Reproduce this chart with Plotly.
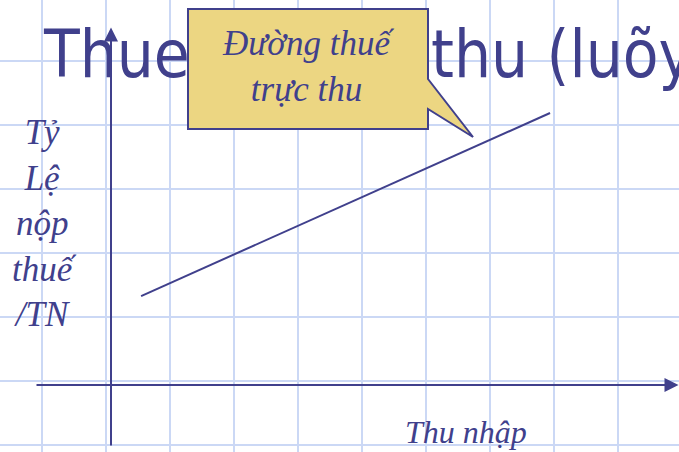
import plotly.graph_objects as go

# ---------------- data ----------------
income = [0.47, 6.86]          # Thu nhập (grid units)
tax_rate = [1.39, 4.25]        # Tỷ lệ nộp thuế / TN (grid units)

title_parts = ["Thueá tröïc", "thu (luõy tieán)"]
y_label_lines = ["Tỷ", "Lệ", "nộp", "thuế", "/TN"]
x_label = "Thu nhập"
callout_lines = ["Đường thuế", "trực thu"]

# ---------------- geometry helpers ----------------
W, H = 679, 452
OX, OY = 111, 385      # pixel position of the origin
CELL = 64              # pixels per grid cell


def px_x(p):
    return (p - OX) / CELL


def px_y(p):
    return (OY - p) / CELL


NAVY = "#40408c"
GRID = "#cbd8f5"
FILL = "#ecd682"

fig = go.Figure()

# title (as trace text so the callout shape can cover it)
fig.add_trace(go.Scatter(
    x=[px_x(44), px_x(431)], y=[px_y(61), px_y(61)],
    mode="text", text=title_parts, textposition="middle right",
    textfont=dict(family="DejaVu Sans Condensed, DejaVu Sans", size=65, color=NAVY),
    hoverinfo="skip", cliponaxis=False,
))

# tax line
fig.add_trace(go.Scatter(
    x=income, y=tax_rate, mode="lines",
    line=dict(color=NAVY, width=2), hoverinfo="skip",
))

# callout shape
pts = [(188, 9), (428, 9), (428, 79), (473, 137), (428, 109), (428, 129), (188, 129)]
path = "M " + " L ".join(f"{px_x(a)},{px_y(b)}" for a, b in pts) + " Z"
fig.add_shape(type="path", path=path, xref="x", yref="y",
              fillcolor=FILL, line=dict(color=NAVY, width=2), layer="above")

annotations = []
# axes with arrows
annotations.append(dict(x=0, y=px_y(27.5), ax=0, ay=px_y(447), xref="x", yref="y",
                        axref="x", ayref="y", text="", showarrow=True,
                        arrowhead=2, arrowsize=1.4, arrowwidth=2, arrowcolor=NAVY))
annotations.append(dict(x=px_x(678.5), y=0, ax=px_x(35), ay=0, xref="x", yref="y",
                        axref="x", ayref="y", text="", showarrow=True,
                        arrowhead=2, arrowsize=1.4, arrowwidth=2, arrowcolor=NAVY))

serif = "Liberation Serif, Times New Roman, serif"
annotations.append(dict(x=px_x(308), y=px_y(66), xref="x", yref="y",
                        text="<i>" + "<br>".join(callout_lines) + "</i>",
                        showarrow=False, align="center",
                        font=dict(family=serif, size=35, color=NAVY)))
annotations.append(dict(x=px_x(44), y=px_y(223), xref="x", yref="y",
                        text="<i>" + "<br>".join(y_label_lines) + "</i>",
                        showarrow=False, align="center",
                        font=dict(family=serif, size=35, color=NAVY)))
annotations.append(dict(x=px_x(466), y=px_y(432), xref="x", yref="y",
                        text="<i>" + x_label + "</i>",
                        showarrow=False, align="center",
                        font=dict(family=serif, size=32, color=NAVY)))

axis_common = dict(showticklabels=False, zeroline=False, showline=False,
                   showgrid=True, gridcolor=GRID, gridwidth=2, dtick=1,
                   ticks="", fixedrange=True)

fig.update_layout(
    width=W, height=H, margin=dict(l=0, r=0, t=0, b=0),
    paper_bgcolor="white", plot_bgcolor="white", showlegend=False,
    xaxis=dict(range=[px_x(0), px_x(W)], tick0=px_x(42), **axis_common),
    yaxis=dict(range=[px_y(H), px_y(0)], tick0=px_y(381), **axis_common),
    annotations=annotations,
)

fig.write_html("out.html", config={"displayModeBar": False},
               post_script="document.body.style.margin='0px';document.body.style.overflow='hidden';")
